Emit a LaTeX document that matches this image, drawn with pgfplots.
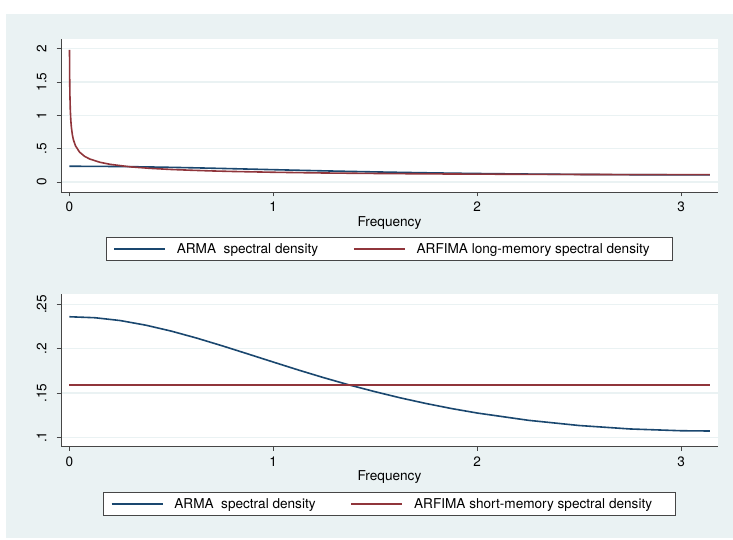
\documentclass[border=0pt]{standalone}
\usepackage{pgfplots}
\pgfplotsset{compat=1.18}
\usepackage{fontspec}
\setmainfont{TeX Gyre Heros}

\definecolor{bgc}{RGB}{234,242,243}
\definecolor{gridc}{RGB}{234,242,243}
\definecolor{armac}{RGB}{26,71,111}
\definecolor{arfimac}{RGB}{144,53,59}
\definecolor{axc}{RGB}{70,70,70}
\newcommand\lbl{\fontsize{13.6}{16}\selectfont}

% ARMA spectral density (same in both panels)
\pgfplotstableread{
w f
0      0.2360
0.125  0.2349
0.25   0.2317
0.375  0.2265
0.5    0.2198
0.625  0.2119
0.75   0.2032
0.875  0.1941
1.0    0.1849
1.125  0.1758
1.25   0.1671
1.375  0.1589
1.5    0.1514
1.625  0.1444
1.75   0.1381
1.875  0.1324
2.0    0.1274
2.25   0.1192
2.5    0.1133
2.75   0.1094
3.0    0.1074
3.1416 0.1071
}\arma

% ARFIMA long-memory spectral density
\pgfplotstableread{
w f
0.001  1.983
0.002  1.524
0.003  1.307
0.005  1.076
0.0075 0.9225
0.01   0.827
0.015  0.709
0.02   0.635
0.03   0.545
0.05   0.449
0.075  0.385
0.1    0.345
0.15   0.296
0.2    0.265
0.3    0.227
0.4    0.204
0.5    0.1877
0.6    0.176
0.7    0.1658
0.8    0.158
1.0    0.146
1.25   0.135
1.5    0.128
1.75   0.122
2.0    0.118
2.25   0.115
2.5    0.113
2.75   0.111
3.0    0.1105
3.1416 0.1104
}\arfimalong

% ARFIMA short-memory spectral density
\pgfplotstableread{
w f
0      0.1592
3.1416 0.1592
}\arfimashort

\pgfplotsset{
  stata/.style={
    scale only axis, width=657pt,
    xmin=-0.0407, xmax=3.181,
    axis x line*=bottom, axis y line*=left,
    axis line style={-, axc, line width=0.9pt},
    axis background/.style={fill=white},
    tick align=outside, major tick length=4.3pt,
    tick style={axc, line width=0.9pt},
    xtick={0,1,2,3}, xticklabels={0,1,2,3},
    ymajorgrids, major grid style={gridc, line width=1.3pt},
    ticklabel style={font=\lbl},
    xticklabel style={anchor=north, inner sep=0pt},
    yticklabel style={rotate=90, anchor=south, inner sep=0pt},
    xticklabel shift=5.7pt, yticklabel shift=10pt,
    xlabel={Frequency}, xlabel style={font=\lbl, inner sep=0pt, anchor=north},
    legend columns=2, legend cell align=left,
    legend image code/.code={\draw[##1, line width=1.5pt] (0pt,0pt) -- (51pt,0pt);},
    legend style={font=\lbl, draw=axc, line width=0.8pt, fill=white,
      anchor=north, inner xsep=7pt, inner ysep=3pt, nodes={inner sep=3pt},
      /tikz/every odd column/.append style={column sep=8pt},
      /tikz/every even column/.append style={column sep=32pt}},
    every axis plot/.append style={line width=1.6pt, line join=round},
  },
}

\begin{document}
\begin{tikzpicture}
\path (0pt,0pt) rectangle (733pt,540pt);
\fill[bgc] (6pt,2pt) rectangle (733pt,526pt);

% upper panel: long-memory comparison
\begin{axis}[stata, at={(61pt,348pt)}, anchor=south west, height=153pt,
  ymin=-0.150, ymax=2.1455,
  ytick={0,0.5,1,1.5,2}, yticklabels={0,.5,1,1.5,2},
  xlabel style={at={(axis description cs:0.5,-0.157)}},
  legend style={at={(0.5,-0.294)}}]
\addplot[armac] table[x=w, y=f] {\arma};
\addlegendentry{ARMA\ \ spectral density}
\addplot[arfimac] table[x=w, y=f] {\arfimalong};
\addlegendentry{ARFIMA long-memory spectral density\hspace*{13pt}}
\end{axis}

% lower panel: short-memory comparison
\begin{axis}[stata, at={(61pt,93.3pt)}, anchor=south west, height=152.2pt,
  ymin=0.0894, ymax=0.2611,
  ytick={0.1,0.15,0.2,0.25}, yticklabels={.1,.15,.2,.25},
  xlabel style={at={(axis description cs:0.5,-0.158)}},
  legend style={at={(0.5,-0.2957)}}]
\addplot[armac] table[x=w, y=f] {\arma};
\addlegendentry{ARMA\ \ spectral density}
\addplot[arfimac] table[x=w, y=f] {\arfimashort};
\addlegendentry{ARFIMA short-memory spectral density\hspace*{13pt}}
\end{axis}
\end{tikzpicture}
\end{document}
